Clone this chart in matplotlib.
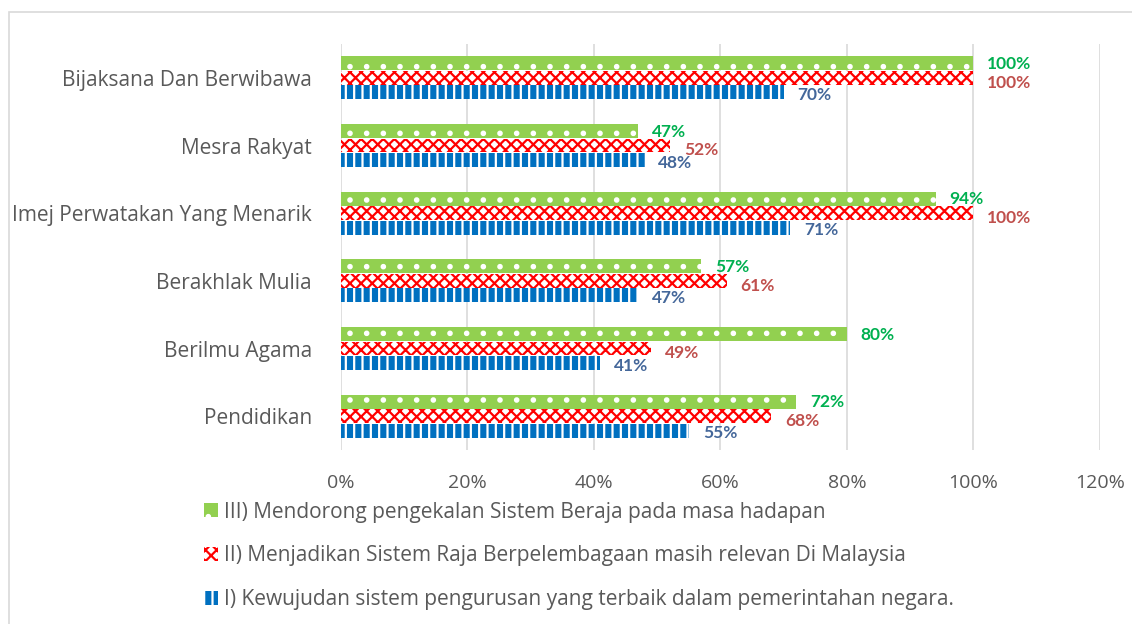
import numpy as np
import matplotlib.pyplot as plt
from matplotlib.patches import Rectangle

plt.rcParams['font.family'] = ['Open Sans', 'DejaVu Sans']
plt.rcParams['hatch.linewidth'] = 1.6

# categories, bottom to top as drawn by barh
categories = ['Pendidikan', 'Berilmu Agama', 'Berakhlak Mulia',
              'Imej Perwatakan Yang Menarik', 'Mesra Rakyat',
              'Bijaksana Dan Berwibawa']

series_names = [
    'I) Kewujudan sistem pengurusan yang terbaik dalam pemerintahan negara.',
    'II) Menjadikan Sistem Raja Berpelembagaan masih relevan Di Malaysia',
    'III) Mendorong pengekalan Sistem Beraja pada masa hadapan',
]
vals_I = [55, 41, 47, 71, 48, 70]
vals_II = [68, 49, 61, 100, 52, 100]
vals_III = [72, 80, 57, 94, 47, 100]

xticks = [0, 20, 40, 60, 80, 100, 120]

fig = plt.figure(figsize=(11.32, 6.24), dpi=100)
ax = fig.add_axes([0.3012, 0.2788, 0.9717 - 0.3012, 0.9295 - 0.2788])

y = np.arange(len(categories))
h = 0.205
off = 0.213

styles = [
    dict(facecolor='#0070C0', edgecolor='white', hatch='||'),
    dict(facecolor='white', edgecolor='#FF0000', hatch='xxx'),
    dict(facecolor='#92D050', edgecolor='white', hatch='.'),
]
label_colors = ['#44679A', '#C0504D', '#00B050']
label_dy = [-2, -3.5, -0.5]

handles = []
for k, (vals, st) in enumerate(zip([vals_I, vals_II, vals_III], styles)):
    pos = y + (k - 1) * off
    bars = ax.barh(pos, vals, height=h, linewidth=0, label=series_names[k],
                   zorder=3, **st)
    handles.append(bars)
    for p, v in zip(pos, vals):
        ax.annotate(f'{v}%', xy=(v, p), xytext=(10, label_dy[k]),
                    textcoords='offset points', va='center', ha='left',
                    fontsize=12.5, fontweight='bold', color=label_colors[k],
                    family=['Lato', 'DejaVu Sans'], zorder=4)

ax.set_xlim(0, 120)
ax.set_ylim(-0.5, len(categories) - 0.5)
ax.set_xticks(xticks)
ax.set_xticklabels([f'{t}%' for t in xticks])
ax.set_yticks(y)
ax.set_yticklabels(categories)
ax.tick_params(axis='both', length=0, colors='#595959')
ax.tick_params(axis='x', pad=17, labelsize=14)
ax.tick_params(axis='y', pad=21, labelsize=15)
ax.xaxis.grid(True, color='#D9D9D9', linewidth=1.2, zorder=0)
ax.set_axisbelow(True)
for s in ax.spines.values():
    s.set_visible(False)

leg = fig.legend(handles[::-1], series_names[::-1], loc='upper left',
                 bbox_to_anchor=(0.171, 0.213), frameon=False,
                 fontsize=15, labelspacing=1.1, handlelength=0.65,
                 handleheight=0.65, handletextpad=0.3, borderpad=0)
for t in leg.get_texts():
    t.set_color('#595959')

# outer chart frame
fig.patches.append(Rectangle((9 / 1132, -0.05), 1.1, 1 - 12 / 624 + 0.05,
                             transform=fig.transFigure, fill=False,
                             edgecolor='#D9D9D9', linewidth=1.2))

fig.savefig('out.png', dpi=100)
